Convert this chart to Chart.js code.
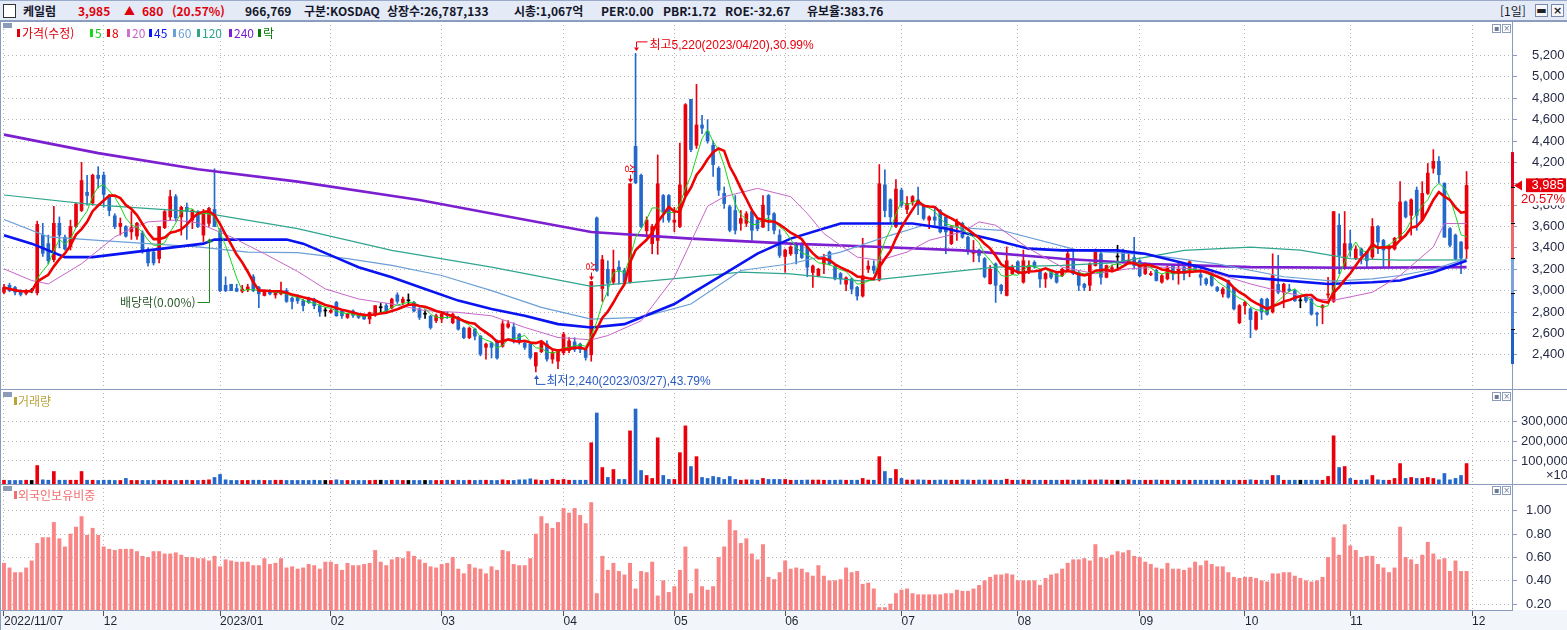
<!DOCTYPE html>
<html lang="ko">
<head>
<meta charset="utf-8">
<title>케일럼 일봉</title>
<script src="https://cdn.jsdelivr.net/npm/chart.js@4.4.1/dist/chart.umd.min.js"></script>
<style>
  html, body { margin: 0; padding: 0; }
  body { width: 1567px; height: 630px; position: relative; overflow: hidden; background: #fff;
         font-family: "Noto Sans CJK KR", sans-serif; }
  canvas { position: absolute; left: 0; }
  #hdr { position: absolute; left: 0; top: 0; width: 1567px; height: 21px; background: #e4eaf6;
         border-top: 1px solid #9aaacb; border-bottom: 1px solid #8b9dc0; box-sizing: border-box; }
  .h { position: absolute; top: 1px; font-size: 12px; line-height: 17px; font-weight: bold; white-space: nowrap; color: #15172a; }
  .r { color: #e0000b; }
  .lg { position: absolute; font-size: 12px; line-height: 14px; white-space: nowrap; z-index: 5; }
  .bar { position: absolute; width: 3px; height: 8px; z-index: 5; }
  .sq { position: absolute; left: 3px; width: 9px; height: 5px; background: #8c9cb8; z-index: 5; }
  .ic { position: absolute; width: 7px; height: 7px; border: 1px solid #8c9cb8; background: #fff; z-index: 5;
        font-size: 8px; line-height: 7px; text-align: center; color: #6a7a98; font-family: "DejaVu Sans", sans-serif; }
  .btn { position: absolute; top: 3px; width: 13px; height: 13px; border: 1px solid #7a8aa8; background: #f4f6fa;
         box-sizing: border-box; font-size: 11px; line-height: 11px; text-align: center; color: #222; font-weight: bold;
         font-family: "DejaVu Sans", sans-serif; }
</style>
</head>
<body>
<div id="hdr">
  <div style="position:absolute;left:3px;top:3px;width:11px;height:12px;border:1px solid #333;background:#fff;"></div>
  <span class="h" style="left:23px">케일럼</span>
  <span class="h r" style="left:78px">3,985</span>
  <span class="h r" style="left:124px;font-size:11px">▲</span>
  <span class="h r" style="left:142px">680</span>
  <span class="h r" style="left:172px">(20.57%)</span>
  <span class="h" style="left:245px">966,769</span>
  <span class="h" style="left:304px">구분:KOSDAQ</span>
  <span class="h" style="left:387px">상장수:26,787,133</span>
  <span class="h" style="left:514px">시총:1,067억</span>
  <span class="h" style="left:601px">PER:0.00</span>
  <span class="h" style="left:663px">PBR:1.72</span>
  <span class="h" style="left:725px">ROE:-32.67</span>
  <span class="h" style="left:807px">유보율:383.76</span>
  <span class="h" style="left:1500px;font-weight:normal">[1일]</span>
  <div class="btn" style="left:1535px">▬</div>
  <div class="btn" style="left:1551px">×</div>
</div>

<canvas id="cPrice" width="1567" height="368" style="top:21px"></canvas>
<canvas id="cVol" width="1567" height="95" style="top:389px"></canvas>
<canvas id="cFrgn" width="1567" height="146" style="top:484px"></canvas>

<!-- price legend -->
<div class="sq" style="top:23px"></div>
<div class="bar" style="left:17px;top:29px;background:#e0000b"></div><span class="lg" style="left:22px;top:26px;color:#e0000b">가격(수정)</span>
<div class="bar" style="left:90px;top:29px;background:#18d818"></div><span class="lg" style="left:95px;top:26px;color:#18c818">5</span>
<div class="bar" style="left:107px;top:29px;background:#f00000"></div><span class="lg" style="left:112px;top:26px;color:#f00000">8</span>
<div class="bar" style="left:127px;top:29px;background:#d070d0"></div><span class="lg" style="left:132px;top:26px;color:#c766c9">20</span>
<div class="bar" style="left:149px;top:29px;background:#0a14f0"></div><span class="lg" style="left:154px;top:26px;color:#0a14f0">45</span>
<div class="bar" style="left:173px;top:29px;background:#6b9fd6"></div><span class="lg" style="left:178px;top:26px;color:#6b9fd6">60</span>
<div class="bar" style="left:197px;top:29px;background:#2fa58e"></div><span class="lg" style="left:202px;top:26px;color:#2fa58e">120</span>
<div class="bar" style="left:229px;top:29px;background:#7b1fd0"></div><span class="lg" style="left:234px;top:26px;color:#7b1fd0">240</span>
<div class="bar" style="left:258px;top:29px;background:#0a7a0a"></div><span class="lg" style="left:263px;top:26px;color:#0a7a0a">락</span>
<div class="ic" style="left:1492px;top:24px">▪</div><div class="ic" style="left:1502px;top:24px">×</div>

<!-- volume legend -->
<div class="sq" style="top:392px"></div>
<div class="bar" style="left:14px;top:397px;background:#b8a43c"></div><span class="lg" style="left:18px;top:394px;color:#b8a43c">거래량</span>
<div class="ic" style="left:1492px;top:392px">▪</div><div class="ic" style="left:1502px;top:392px">×</div>

<!-- foreign ownership legend -->
<div class="sq" style="top:486px"></div>
<div class="bar" style="left:14px;top:491px;background:#f07070"></div><span class="lg" style="left:18px;top:488px;color:#f07070">외국인보유비중</span>
<div class="ic" style="left:1492px;top:486px">▪</div><div class="ic" style="left:1502px;top:486px">×</div>

<script>
// x축: 월 시작 인덱스와 라벨
const monthStart = [0, 18, 39, 59, 79, 101, 121, 141, 162, 183, 205, 224, 243, 265];
const monthLabel = ['2022/11/07', '12', '2023/01', '02', '03', '04', '05', '06', '07', '08', '09', '10', '11', '12'];

// y축 눈금
const priceTicks = [2400, 2600, 2800, 3000, 3200, 3400, 3600, 3800, 4000, 4200, 4400, 4600, 4800, 5000, 5200];
const volumeTicks = [100, 200, 300];           // 천 단위 (x10)
const foreignTicks = [0.2, 0.4, 0.6, 0.8, 1.0];

// 일봉 [시가, 고가, 저가, 종가]
const ohlc = [
  // 2022/11
  [2985,3060,2970,3030],[3050,3070,2990,3000],[3030,3040,2960,2985],[3000,3010,2950,2965],[2975,3010,2960,2990],[3000,3020,2980,3000],
  [2980,3650,2960,3620],[3520,3630,3320,3350],[3440,3520,3250,3280],[3290,3790,3270,3630],[3630,3690,3400,3520],[3500,3520,3380,3390],
  [3410,3660,3380,3600],[3600,3820,3590,3810],[3750,4200,3740,4030],[3920,4080,3800,3890],[3820,4090,3800,4080],[4080,4160,3960,4050],
  // 12
  [4080,4110,3780,3900],[3880,3900,3700,3750],[3700,3720,3580,3600],[3600,3680,3520,3630],[3600,3610,3500,3510],[3550,3740,3480,3590],
  [3510,3640,3480,3630],[3540,3560,3350,3380],[3380,3400,3230,3260],[3360,3370,3240,3260],[3300,3600,3260,3600],[3590,3750,3580,3740],
  [3690,3940,3660,3880],[3880,3900,3650,3680],[3690,3790,3520,3780],[3780,3820,3480,3740],[3660,3760,3580,3750],[3740,3750,3590,3600],
  [3520,3760,3460,3740],[3630,3780,3600,3770],[3760,4140,3600,3600],
  // 2023/01
  [3560,3580,2990,3000],[3050,3130,2990,3000],[3060,3060,3000,3000],[3020,3060,2990,2995],[2995,3050,2980,3015],[3010,3060,2990,3035],
  [3130,3150,2990,3000],[3030,3040,2840,2970],[2955,3000,2950,2990],[2995,3010,2960,2970],[2960,3000,2930,2985],[2970,3080,2960,2995],
  [3000,3020,2890,2900],[2930,2940,2830,2900],[2940,2960,2880,2905],[2905,2920,2810,2860],[2920,2940,2880,2890],[2920,2930,2830,2860],
  [2860,2870,2760,2800],[2810,2840,2760,2810],
  // 02
  [2800,2830,2790,2815],[2890,2900,2760,2765],[2810,2820,2740,2765],[2750,2790,2740,2780],[2810,2820,2750,2770],[2780,2790,2740,2750],
  [2770,2780,2730,2735],[2735,2800,2690,2795],[2770,2860,2760,2860],[2840,2880,2800,2840],[2860,2880,2800,2810],[2840,2930,2830,2920],
  [2960,2980,2880,2900],[2890,2940,2870,2920],[2905,2970,2870,2905],[2890,2900,2800,2810],[2830,2840,2730,2750],[2780,2820,2740,2780],
  [2760,2770,2640,2655],[2720,2780,2700,2765],
  // 03
  [2735,2790,2700,2780],[2780,2800,2740,2770],[2700,2790,2690,2780],[2750,2760,2630,2640],[2650,2660,2550,2560],[2560,2660,2550,2650],
  [2640,2650,2540,2575],[2575,2580,2390,2405],[2470,2510,2360,2500],[2510,2520,2370,2470],[2530,2540,2360,2370],[2480,2720,2470,2690],
  [2660,2720,2650,2690],[2660,2700,2510,2530],[2590,2600,2500,2530],[2510,2520,2450,2470],[2500,2520,2360,2375],[2295,2420,2240,2420],
  [2430,2520,2420,2510],[2500,2530,2340,2360],[2360,2440,2320,2420],[2340,2450,2270,2440],
  // 04
  [2420,2610,2400,2590],[2440,2560,2420,2530],[2520,2560,2430,2450],[2500,2510,2420,2450],[2450,2460,2350,2375],[2400,3085,2340,3085],
  [3680,3690,3180,3190],[3020,3330,2900,3290],[3200,3280,2950,3070],[3080,3380,3060,3200],[3220,3280,3060,3190],[3190,3210,3070,3080],
  [3080,4000,3070,4000],[4350,5220,4000,4010],[4080,4090,3590,3600],[3560,3690,3500,3660],[3440,3620,3345,3600],[3470,4270,3340,4000],
  [3890,3900,3640,3740],[3890,3900,3640,3660],
  // 05
  [3640,3780,3550,3660],[3600,4380,3590,3990],[3890,4750,3880,4740],[4790,4790,4300,4320],[4360,4930,4330,4550],[4550,4640,4470,4520],
  [4490,4600,4380,4400],[4360,4400,4070,4180],[4145,4160,3890,3940],[3910,3970,3770,3815],[3785,3800,3550,3565],[3750,3890,3530,3565],
  [3630,3750,3565,3675],[3630,3740,3600,3720],[3740,3760,3470,3565],[3660,3680,3560,3580],[3595,3890,3590,3800],[3890,3900,3560,3710],
  [3720,3730,3530,3565],[3520,3570,3310,3330],
  // 06
  [3320,3390,3170,3380],[3345,3420,3330,3410],[3440,3450,3250,3345],[3440,3450,3300,3310],[3410,3420,3130,3220],[3170,3240,3030,3230],
  [3140,3210,3130,3200],[3250,3340,3160,3310],[3360,3370,3240,3250],[3230,3240,3100,3110],[3160,3170,3060,3110],[3060,3130,3000,3120],
  [3110,3120,2970,3015],[3030,3040,2910,2950],[2950,3490,2940,3140],[3200,3280,3170,3230],[3230,3280,3160,3190],[3100,4180,3090,4000],
  [3990,4130,3690,3750],[3850,3860,3640,3690],[3600,4040,3590,3950],
  // 07
  [3940,3960,3780,3800],[3760,3880,3720,3815],[3830,3890,3800,3880],[3850,3970,3710,3800],[3800,3810,3660,3675],[3660,3700,3580,3690],
  [3690,3770,3610,3660],[3750,3760,3540,3550],[3690,3700,3345,3550],[3440,3610,3430,3600],[3600,3670,3470,3645],[3630,3640,3490,3500],
  [3500,3510,3340,3380],[3350,3470,3270,3380],[3380,3390,3270,3330],[3300,3310,3120,3130],[3065,3235,3060,3200],[3250,3260,2890,3050],
  [3050,3060,2970,3000],[2955,3410,2950,3280],[3160,3240,3150,3220],
  // 08
  [3270,3280,3160,3170],[3080,3380,3070,3280],[3190,3280,3160,3235],[3265,3280,3210,3220],[3190,3200,3030,3110],[3110,3170,3030,3160],
  [3170,3180,3110,3125],[3160,3170,3070,3080],[3140,3210,3130,3200],[3190,3390,3180,3345],[3300,3380,3150,3160],[3170,3180,3000,3050],
  [3060,3070,3000,3030],[3050,3260,3000,3250],[3235,3390,3230,3375],[3345,3360,3060,3125],[3125,3240,3120,3235],[3200,3240,3190,3215],
  [3315,3425,3190,3315],[3380,3390,3270,3280],[3255,3350,3250,3285],[3310,3500,3200,3235],
  // 09
  [3280,3290,3130,3140],[3160,3260,3150,3250],[3150,3180,3140,3160],[3190,3200,3090,3095],[3080,3150,3070,3140],[3110,3230,3100,3220],
  [3235,3240,3100,3160],[3160,3270,3060,3200],[3220,3250,3100,3160],[3190,3280,3130,3270],[3235,3240,3180,3190],[3150,3220,3050,3125],
  [3110,3120,3050,3065],[3170,3180,3040,3050],[3030,3040,2990,3000],[2970,3030,2940,3015],[3095,3100,2930,2940],[3025,3030,2820,2830],
  [2700,2870,2690,2860],
  // 10
  [2860,2900,2780,2890],[2830,2840,2560,2730],[2640,2810,2630,2800],[2920,2930,2730,2800],[2920,2930,2770,2780],[2800,3345,2790,3140],
  [3060,3330,2970,2985],[2985,3070,2840,3060],[3015,3060,2990,3000],[3000,3010,2900,2905],[2905,2950,2840,2905],[2950,2960,2890,2905],
  [2920,2930,2770,2780],[2790,2800,2670,2780],[2840,2870,2690,2860],[2960,3125,2930,2970],[2900,3740,2890,3740],[3612,3720,3160,3330],
  [3220,3740,3200,3440],
  // 11
  [3440,3565,3320,3380],[3300,3420,3290,3390],[3390,3400,3250,3330],[3360,3370,3220,3280],[3315,3675,3300,3600],[3600,3610,3345,3455],
  [3470,3480,3220,3380],[3390,3430,3220,3420],[3390,3500,3380,3490],[3490,4020,3480,3830],[3830,3840,3680,3690],[3705,3860,3520,3850],
  [3940,3970,3565,3705],[3660,4020,3650,3910],[3910,4190,3900,4100],[4145,4320,4100,4210],[4210,4255,4005,4085],[4005,4010,3500,3500],
  [3580,3590,3410,3425],[3520,3530,3290,3300],[3455,3460,3160,3305],[3390,4115,3300,3985]
];

// 거래량 (천 단위, 축 표시 x10)
const volumeK = [
  3,2,2,2,3,2,77,5,3,47,3,3,3,3,47,3,3,2,
  3,3,2,2,12,2,2,2,2,3,2,3,2,2,2,3,2,2,3,5,17,
  32,5,2,2,2,2,3,3,2,2,3,3,2,2,2,2,2,3,2,2,
  2,5,2,2,2,2,2,2,3,3,2,3,3,2,2,2,2,2,2,2,
  2,3,2,3,2,3,2,3,3,2,2,5,2,2,5,5,10,5,2,3,8,3,
  7,3,3,3,3,192,342,67,17,57,7,7,252,362,52,27,12,217,27,7,
  7,142,277,72,122,17,12,22,17,7,22,7,3,5,5,3,12,7,7,7,
  7,3,3,3,4,4,4,3,3,3,4,3,3,3,12,4,3,122,47,12,57,
  12,4,4,5,4,3,3,4,4,3,3,5,4,3,4,4,4,3,3,8,3,
  3,5,3,3,3,3,3,3,3,4,3,4,3,4,4,5,4,3,3,3,5,3,
  3,3,3,4,3,3,3,3,3,3,3,3,3,3,3,3,3,3,3,
  3,5,3,3,3,27,27,3,3,3,3,3,3,3,3,22,227,67,72,
  12,3,3,5,27,5,3,3,12,87,12,17,12,12,17,12,5,37,5,12,27,87
];

// 외국인 보유비중 (%)
const foreign = [
  0.55,0.51,0.47,0.47,0.51,0.57,0.72,0.77,0.77,0.90,0.76,0.69,0.80,0.86,0.95,0.79,0.85,0.79,
  0.69,0.67,0.66,0.67,0.67,0.67,0.65,0.61,0.60,0.65,0.65,0.63,0.63,0.64,0.62,0.60,0.60,0.59,0.59,0.57,0.61,
  0.52,0.58,0.57,0.56,0.56,0.56,0.53,0.53,0.59,0.54,0.55,0.59,0.51,0.52,0.50,0.51,0.54,0.53,0.50,0.56,
  0.56,0.54,0.49,0.55,0.53,0.53,0.54,0.55,0.66,0.56,0.53,0.58,0.60,0.59,0.65,0.61,0.58,0.55,0.52,0.51,
  0.54,0.55,0.60,0.50,0.46,0.54,0.51,0.50,0.46,0.52,0.49,0.66,0.65,0.54,0.53,0.53,0.59,0.80,0.95,0.89,0.85,0.90,
  1.02,0.98,1.02,0.96,0.89,1.07,0.29,0.61,0.49,0.55,0.48,0.45,0.55,0.33,0.48,0.47,0.56,0.27,0.40,0.30,
  0.35,0.49,0.69,0.29,0.50,0.35,0.32,0.35,0.60,0.69,0.92,0.83,0.72,0.76,0.63,0.58,0.71,0.43,0.41,0.47,
  0.57,0.50,0.51,0.50,0.47,0.44,0.53,0.44,0.40,0.40,0.41,0.51,0.47,0.48,0.37,0.38,0.33,0.17,0.17,0.20,0.29,
  0.32,0.33,0.29,0.28,0.28,0.28,0.28,0.28,0.29,0.29,0.32,0.31,0.31,0.33,0.36,0.40,0.43,0.45,0.45,0.46,0.45,
  0.40,0.40,0.40,0.40,0.36,0.42,0.45,0.46,0.50,0.55,0.58,0.58,0.59,0.57,0.71,0.60,0.59,0.62,0.65,0.64,0.66,0.61,
  0.60,0.56,0.54,0.51,0.50,0.55,0.50,0.50,0.49,0.51,0.56,0.53,0.57,0.54,0.52,0.52,0.47,0.43,0.42,
  0.43,0.43,0.42,0.40,0.39,0.46,0.46,0.47,0.47,0.44,0.42,0.40,0.39,0.40,0.43,0.60,0.77,0.62,0.88,
  0.70,0.66,0.60,0.61,0.61,0.54,0.51,0.47,0.51,0.86,0.60,0.58,0.54,0.62,0.73,0.63,0.58,0.59,0.48,0.57,0.48,0.48
];

// 장기 이동평균 (그림에서 읽은 [인덱스, 값])
const ma20 = [[0,3204],[5,3095],[8,3063],[14,3252],[20,3503],[23,3581],[26,3644],[31,3660],[35,3634],[41,3503],[47,3346],
  [53,3180],[58,3016],[64,2922],[70,2875],[76,2813],[82,2797],[88,2765],[94,2656],[100,2562],[106,2540],[109,2580],[115,2718],
  [121,3126],[127,3790],[130,3879],[136,3957],[142,3879],[145,3722],[148,3534],[154,3314],[158,3283],[163,3361],[167,3471],
  [173,3550],[176,3644],[179,3612],[185,3393],[191,3220],[197,3158],[203,3205],[209,3220],[216,3200],[219,3157],[225,3063],
  [231,2985],[237,2922],[240,2910],[247,2985],[252,3142],[258,3409],[260,3628],[264,3628]];
const ma45 = [[0,3518],[5,3440],[11,3314],[16,3314],[26,3377],[36,3440],[38,3478],[51,3478],[54,3440],[59,3330],[64,3220],
  [70,3126],[76,3016],[82,2907],[88,2828],[94,2765],[100,2687],[106,2656],[112,2687],[121,2875],[124,2969],[130,3157],
  [136,3346],[142,3487],[148,3581],[151,3628],[164,3628],[170,3581],[179,3471],[185,3393],[191,3377],[201,3377],[206,3346],
  [216,3220],[221,3140],[230,3101],[239,3063],[247,3079],[252,3095],[258,3173],[264,3280]];
const ma60 = [[0,3666],[8,3503],[17,3471],[26,3440],[35,3409],[44,3361],[53,3355],[62,3299],[70,3236],[79,3142],[88,3001],
  [97,2844],[106,2734],[115,2750],[124,2875],[133,3189],[142,3252],[151,3361],[160,3518],[166,3612],[180,3565],[194,3377],
  [207,3335],[219,3250],[231,3130],[240,3090],[247,3110],[252,3142],[258,3200],[264,3300]];
const ma120 = [[0,3895],[17,3801],[35,3738],[53,3581],[70,3377],[88,3220],[106,3040],[124,3126],[133,3173],[142,3157],
  [155,3090],[179,3220],[191,3236],[200,3260],[207,3321],[213,3377],[225,3408],[234,3380],[243,3300],[252,3285],[264,3289]];
const ma240 = [[0,4460],[17,4287],[35,4136],[53,4020],[75,3848],[88,3722],[106,3549],[124,3487],[142,3440],[155,3415],
  [173,3377],[191,3299],[207,3250],[225,3220],[243,3214],[264,3220]];

// 표시 이벤트
const limitUpDays = [106, 113];
const highMark = { i: 114, v: 5220, text: '최고5,220(2023/04/20),30.99%' };
const lowMark = { i: 96, v: 2240, text: '최저2,240(2023/03/27),43.79%' };
const exDiv = { i: 37, top: 3490, base: 2897, text: '배당락(0.00%)' };

const RED = '#e8000c', BLUE = '#2468cc', FRAME = '#8a9bbb', GRID = '#b4b4b4';
const NUMFONT = '"Liberation Sans", "Noto Sans CJK KR", sans-serif';
const XMIN = -0.72, XMAX = 272.2;

const closes = ohlc.map(r => r[3]);
const candleColors = ohlc.map(r => r[3] > r[0] ? RED : (r[3] < r[0] ? BLUE : '#000'));
const lastClose = closes[closes.length - 1];
const prevClose = closes[closes.length - 2];

function movingAvg(n) {
  return closes.map((_, i) => {
    const s = Math.max(0, i - n + 1);
    let t = 0;
    for (let k = s; k <= i; k++) t += closes[k];
    return { x: i, y: t / (i - s + 1) };
  });
}
const pts = a => a.map(p => ({ x: p[0], y: p[1] }));
const line = (data, color, w, order) => ({
  type: 'line', data, borderColor: color, borderWidth: w, pointRadius: 0, tension: 0, fill: false, order
});

// 라벨 여백이 패널 크기를 줄이지 않도록
function noPad(s) { s.paddingTop = 0; s.paddingBottom = 0; s.paddingLeft = 0; s.paddingRight = 0; }

function xScale(withLabels) {
  return {
    type: 'linear', min: XMIN, max: XMAX, offset: false,
    afterBuildTicks: s => { s.ticks = monthStart.map(v => ({ value: v })); },
    afterFit: s => { s.height = withLabels ? 20 : 0; noPad(s); },
    grid: { color: GRID, offset: false, drawTicks: withLabels, tickLength: 6, tickColor: '#555', tickBorderDash: [] },
    border: { display: withLabels, color: FRAME, dash: [1, 3] },
    ticks: {
      display: withLabels, autoSkip: false, maxRotation: 0, minRotation: 0, align: 'start', padding: -2,
      color: '#1e2233', font: { family: NUMFONT, size: 12 },
      callback: (v, i) => monthLabel[i]
    }
  };
}
function yScale(min, max, ticks, pad, fmt) {
  return {
    position: 'right', min, max,
    afterBuildTicks: s => { s.ticks = ticks.map(v => ({ value: v })); },
    afterFit: s => { s.width = 55; noPad(s); },
    grid: { color: GRID, drawTicks: true, tickLength: 5, tickColor: FRAME, tickBorderDash: [] },
    border: { display: true, color: FRAME, dash: [1, 3] },
    ticks: { padding: pad, crossAlign: 'near', color: '#262b45', font: { family: NUMFONT, size: 13 }, callback: fmt }
  };
}
function baseOptions(x, y) {
  return {
    responsive: false, animation: false, events: [],
    layout: { autoPadding: false, padding: 0 },
    plugins: { legend: { display: false }, tooltip: { enabled: false } },
    scales: { x, y }
  };
}

// 패널 바탕과 테두리
const panelFrame = {
  id: 'panelFrame',
  beforeDraw(ch) {
    const c = ch.ctx;
    c.save();
    c.fillStyle = '#fff';
    c.fillRect(0, 0, ch.width, ch.height);
    if (ch.chartArea.bottom < ch.height - 2) {
      c.fillStyle = '#f2f5f9';
      c.fillRect(0, ch.chartArea.bottom, ch.width, ch.height - ch.chartArea.bottom);
    }
    c.restore();
  },
  afterDraw(ch) {
    const c = ch.ctx;
    c.save();
    c.fillStyle = FRAME;
    c.fillRect(0, 0, ch.width, 1);
    c.fillRect(0, 0, 1, ch.height);
    c.restore();
  }
};

// 가격 패널 주석: 상한가, 최고/최저, 배당락
const priceNotes = {
  id: 'priceNotes',
  afterDatasetsDraw(ch) {
    const { ctx, scales: { x, y } } = ch;
    ctx.save();
    ctx.lineWidth = 1;

    limitUpDays.forEach(i => {
      const px = Math.round(x.getPixelForValue(i)) + 0.5, top = y.getPixelForValue(ohlc[i][1]);
      ctx.fillStyle = RED; ctx.strokeStyle = RED;
      ctx.beginPath(); ctx.moveTo(px, top - 9); ctx.lineTo(px, top - 4); ctx.stroke();
      ctx.beginPath(); ctx.moveTo(px - 2.5, top - 5); ctx.lineTo(px + 2.5, top - 5); ctx.lineTo(px, top - 1); ctx.fill();
      ctx.save();
      ctx.translate(px, top - 15);
      ctx.rotate(Math.PI / 2);
      ctx.font = '11px "Noto Sans CJK KR"';
      ctx.textAlign = 'center'; ctx.textBaseline = 'middle';
      ctx.fillText('상', 0, 0);
      ctx.restore();
    });

    let px = Math.round(x.getPixelForValue(highMark.i)) + 0.5, py = y.getPixelForValue(highMark.v);
    ctx.strokeStyle = RED; ctx.fillStyle = RED;
    ctx.beginPath(); ctx.moveTo(px + 11, py - 11.5); ctx.lineTo(px, py - 11.5); ctx.lineTo(px, py - 6); ctx.stroke();
    ctx.beginPath(); ctx.moveTo(px - 2.5, py - 6); ctx.lineTo(px + 2.5, py - 6); ctx.lineTo(px, py - 2.5); ctx.fill();
    ctx.font = '12px ' + NUMFONT; ctx.textAlign = 'left'; ctx.textBaseline = 'middle';
    ctx.fillText(highMark.text, px + 13, py - 8);

    px = Math.round(x.getPixelForValue(lowMark.i)) + 0.5; py = y.getPixelForValue(lowMark.v);
    ctx.strokeStyle = '#2a5bc4'; ctx.fillStyle = '#2a5bc4';
    ctx.beginPath(); ctx.moveTo(px, py + 7); ctx.lineTo(px, py + 12.5); ctx.lineTo(px + 9, py + 12.5); ctx.stroke();
    ctx.beginPath(); ctx.moveTo(px - 2.5, py + 7); ctx.lineTo(px + 2.5, py + 7); ctx.lineTo(px, py + 3); ctx.fill();
    ctx.fillText(lowMark.text, px + 10, py + 10);

    px = Math.round(x.getPixelForValue(exDiv.i)) + 0.5;
    const t = y.getPixelForValue(exDiv.top), b = Math.round(y.getPixelForValue(exDiv.base)) + 0.5;
    ctx.strokeStyle = '#1f8a1f'; ctx.fillStyle = '#1f8a1f';
    ctx.beginPath(); ctx.moveTo(px - 12, b); ctx.lineTo(px, b); ctx.lineTo(px, t + 3); ctx.stroke();
    ctx.beginPath(); ctx.moveTo(px - 3, t + 4); ctx.lineTo(px + 3, t + 4); ctx.lineTo(px, t); ctx.fill();
    ctx.fillStyle = '#2d5a2d';
    ctx.font = '12px "Noto Sans CJK KR"'; ctx.textAlign = 'right';
    ctx.fillText(exDiv.text, px - 14, b);
    ctx.restore();
  },
  afterDraw(ch) {
    const { ctx, scales: { y } } = ch;
    const x0 = ch.chartArea.right;
    ctx.save();
    // 가격제한폭 막대 (전일 종가 기준 ±30%)
    const steps = [1.3, 1.2, 1.1, 1.0, 0.9, 0.8, 0.7];
    const cols = ['#e0001a', '#e53838', '#ef6a6a', '#7aa2dd', '#4a82d4', '#2060c4'];
    for (let k = 0; k < cols.length; k++) {
      const a = y.getPixelForValue(prevClose * steps[k]), b = y.getPixelForValue(prevClose * steps[k + 1]);
      ctx.fillStyle = cols[k];
      ctx.fillRect(x0 - 1, a, 3, b - a);
      if (k > 0) { ctx.fillStyle = '#000'; ctx.fillRect(x0 - 1, Math.round(a), 4, 1); }
    }
    // 현재가 표시
    const yp = y.getPixelForValue(lastClose);
    ctx.fillStyle = RED;
    ctx.beginPath(); ctx.moveTo(x0 + 2, yp); ctx.lineTo(x0 + 10, yp - 5); ctx.lineTo(x0 + 10, yp + 5); ctx.fill();
    ctx.fillRect(x0 + 14, yp - 7, 40, 14);
    ctx.fillStyle = '#fff';
    ctx.fillRect(x0 + 14, yp + 7, 40, 13);
    ctx.font = '13px ' + NUMFONT; ctx.textAlign = 'right'; ctx.textBaseline = 'middle';
    ctx.fillText(lastClose.toLocaleString('en-US'), x0 + 52, yp + 0.5);
    ctx.fillStyle = RED;
    ctx.fillText(((lastClose - prevClose) / prevClose * 100).toFixed(2) + '%', x0 + 53, yp + 14);
    ctx.restore();
  }
};

const volNote = {
  id: 'volNote',
  afterDraw(ch) {
    const c = ch.ctx;
    c.save();
    c.fillStyle = '#262b45';
    c.font = '13px ' + NUMFONT; c.textAlign = 'left'; c.textBaseline = 'middle';
    c.fillText('×10', ch.chartArea.right + 34, 86);
    c.restore();
  }
};

// 가격 차트
new Chart(document.getElementById('cPrice'), {
  type: 'bar',
  data: {
    datasets: [
      { type: 'bar', data: ohlc.map((r, i) => ({ x: i, y: [r[2], r[1]] })), backgroundColor: candleColors,
        barThickness: 1, maxBarThickness: 1, grouped: false, order: 30 },
      { type: 'bar', data: ohlc.map((r, i) => ({ x: i, y: [r[0], r[3]] })), backgroundColor: candleColors,
        barThickness: 3, maxBarThickness: 3, minBarLength: 1, grouped: false, order: 29 },
      line(pts(ma240), '#7b1fd0', 2.6, 10),
      line(pts(ma120), '#2fa58e', 1.2, 9),
      line(pts(ma60), '#6b9fd6', 1.2, 8),
      line(pts(ma45), '#0a14f0', 2.6, 7),
      line(pts(ma20), '#c766c9', 1, 6),
      line(movingAvg(5), '#18d818', 1, 5),
      line(movingAvg(8), '#f00000', 2.6, 4)
    ]
  },
  options: baseOptions(xScale(false), yScale(2080, 5523, priceTicks, 15, v => v.toLocaleString('en-US'))),
  plugins: [panelFrame, priceNotes]
});

// 거래량 차트
new Chart(document.getElementById('cVol'), {
  type: 'bar',
  data: {
    datasets: [
      { type: 'bar', data: volumeK.map((v, i) => ({ x: i, y: v })), backgroundColor: candleColors,
        barThickness: 3, maxBarThickness: 3, base: -16, grouped: false }
    ]
  },
  options: baseOptions(xScale(false), yScale(-16, 463, volumeTicks, 4, v => (v * 1000).toLocaleString('en-US'))),
  plugins: [panelFrame, volNote]
});

// 외국인 보유비중 차트
new Chart(document.getElementById('cFrgn'), {
  type: 'bar',
  data: {
    datasets: [
      { type: 'bar', data: foreign.map((v, i) => ({ x: i, y: v })), backgroundColor: '#f98686',
        barThickness: 3.3, maxBarThickness: 3.3, grouped: false }
    ]
  },
  options: baseOptions(xScale(true), yScale(0.149, 1.229, foreignTicks, 9, v => v.toFixed(2))),
  plugins: [panelFrame]
});
</script>
</body>
</html>
